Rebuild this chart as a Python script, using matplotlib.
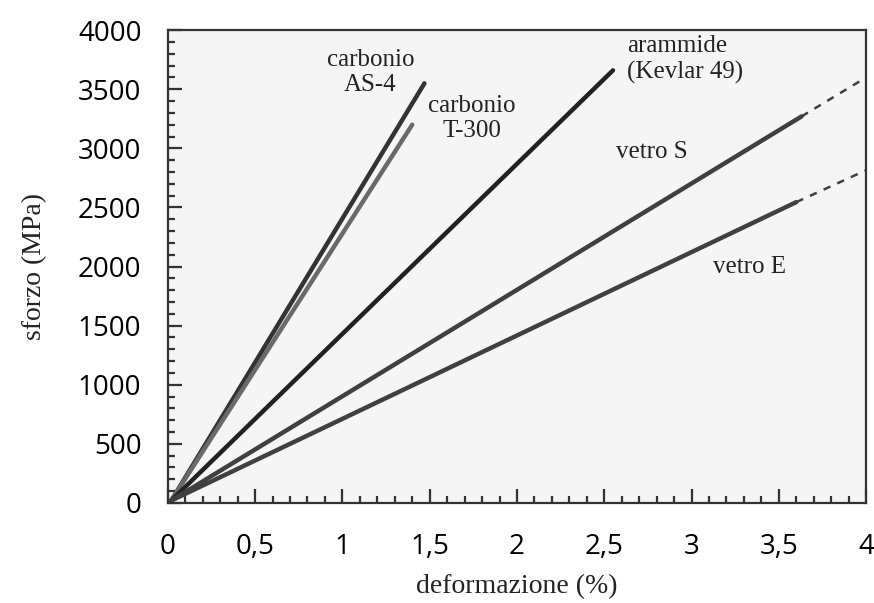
import matplotlib
matplotlib.use('Agg')
import matplotlib.pyplot as plt
from matplotlib.ticker import MultipleLocator, FuncFormatter

# Curve sforzo-deformazione (punto iniziale e finale di ogni retta)
nomi = ['carbonio AS-4', 'carbonio T-300', 'arammide', 'vetro S', 'vetro E']
def_fine = [1.47, 1.40, 2.55, 3.63, 3.60]
sforzo_fine = [3550, 3200, 3660, 3270, 2545]
colori = ['#333333', '#6a6a6a', '#222222', '#404040', '#404040']

# prolungamenti tratteggiati delle fibre di vetro
vetro_tratt_def = [4.0, 4.0]
vetro_tratt_sforzo = [3600, 2815]

fig, ax = plt.subplots(figsize=(8.74, 6.03), dpi=100)
fig.subplots_adjust(left=0.192, right=0.991, bottom=0.166, top=0.950)
ax.set_facecolor('#f5f5f5')

for x1, y1, c in zip(def_fine, sforzo_fine, colori):
    ax.plot([0.02, x1], [20, y1], color=c, lw=3.2, solid_capstyle='round')

for i, (x2, y2) in enumerate(zip(vetro_tratt_def, vetro_tratt_sforzo)):
    k = 3 + i
    ax.plot([def_fine[k], x2], [sforzo_fine[k], y2], color='#404040', lw=1.8,
            linestyle=(0, (3, 3)))

ax.set_xlim(0, 4)
ax.set_ylim(0, 4000)
ax.xaxis.set_major_locator(MultipleLocator(0.5))
ax.xaxis.set_minor_locator(MultipleLocator(0.1))
ax.yaxis.set_major_locator(MultipleLocator(500))
ax.yaxis.set_minor_locator(MultipleLocator(100))
ax.xaxis.set_major_formatter(FuncFormatter(lambda v, p: ('%g' % v).replace('.', ',')))

ax.tick_params(which='both', direction='in', width=1.6, color='#333333',
               top=False, right=False)
ax.tick_params(which='major', length=10)
ax.tick_params(which='minor', length=5)
ax.tick_params(axis='x', pad=22, labelsize=20)
ax.tick_params(axis='y', pad=19, labelsize=20)
for lab in ax.get_xticklabels() + ax.get_yticklabels():
    lab.set_fontfamily('Open Sans')

for s in ax.spines.values():
    s.set_linewidth(1.6)
    s.set_color('#333333')

serif = 'Liberation Serif'
ax.set_xlabel('deformazione (%)', fontsize=20, family=serif, labelpad=9, color='#222222')
ax.set_ylabel('sforzo (MPa)', fontsize=20, family=serif, labelpad=22, color='#222222')

kw = dict(fontsize=18, family=serif, color='#222222', linespacing=1.2)
ax.text(1.16, 3640, 'carbonio\nAS-4', ha='center', va='center', **kw)
ax.text(1.74, 3250, 'carbonio\nT-300', ha='center', va='center', **kw)
ax.text(2.63, 3750, 'arammide\n(Kevlar 49)', ha='left', va='center', **kw)
ax.text(2.57, 2970, 'vetro S', ha='left', va='center', **kw)
ax.text(3.12, 2000, 'vetro E', ha='left', va='center', **kw)

fig.savefig('out.png', dpi=100)
